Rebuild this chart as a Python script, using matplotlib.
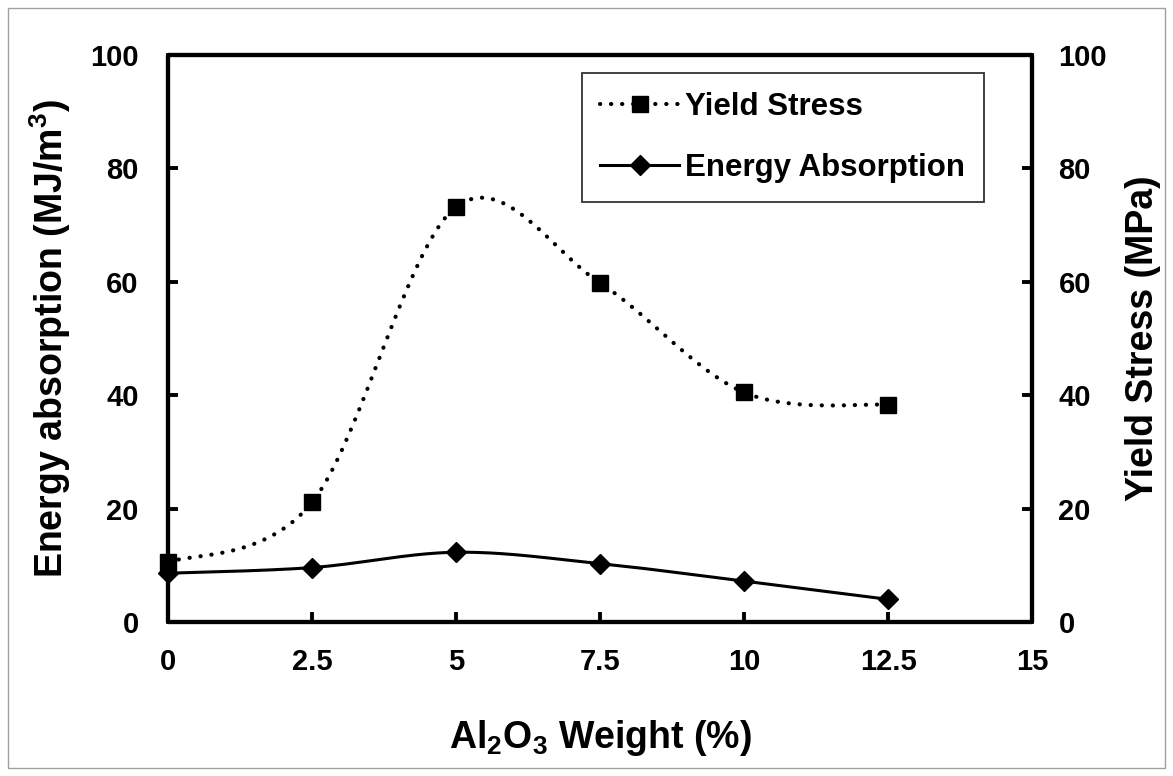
import numpy as np
import matplotlib
matplotlib.use("Agg")
import matplotlib.pyplot as plt
from matplotlib.lines import Line2D
from matplotlib.patches import Rectangle

# ---- data ----
al2o3_wt = [0, 2.5, 5, 7.5, 10, 12.5]
yield_stress = [10.5, 21.1, 73.2, 59.8, 40.5, 38.3]
energy_absorption = [8.6, 9.6, 12.3, 10.3, 7.2, 4.0]
x_ticks = [0, 2.5, 5, 7.5, 10, 12.5, 15]
x_tick_labels = ["0", "2.5", "5", "7.5", "10", "12.5", "15"]
y_ticks = [0, 20, 40, 60, 80, 100]


def excel_smooth(xs, ys, n=40):
    """Excel-style smoothed line (Catmull-Rom Bezier) through the points."""
    xs = np.asarray(xs, float)
    ys = np.asarray(ys, float)
    P = np.column_stack([xs, ys])
    out = []
    t = np.linspace(0, 1, n)[:, None]
    for i in range(len(P) - 1):
        p0 = P[i - 1] if i > 0 else P[i]
        p1 = P[i]
        p2 = P[i + 1]
        p3 = P[i + 2] if i + 2 < len(P) else P[i + 1]
        c1 = p1 + (p2 - p0) / 6.0
        c2 = p2 - (p3 - p1) / 6.0
        seg = ((1 - t) ** 3) * p1 + 3 * ((1 - t) ** 2) * t * c1 + 3 * (1 - t) * t ** 2 * c2 + t ** 3 * p2
        out.append(seg if i == 0 else seg[1:])
    arr = np.vstack(out)
    return arr[:, 0], arr[:, 1]


plt.rcParams['font.family'] = ['Liberation Sans', 'DejaVu Sans']
plt.rcParams['font.weight'] = 'bold'
plt.rcParams['mathtext.fontset'] = 'custom'
plt.rcParams['mathtext.rm'] = 'Liberation Sans:bold'
plt.rcParams['mathtext.bf'] = 'Liberation Sans:bold'
plt.rcParams['mathtext.default'] = 'bf'

fig = plt.figure(figsize=(11.73, 7.76), dpi=100)
ax = fig.add_axes([168 / 1173, 1 - 622 / 776, (1032 - 168) / 1173, (622 - 55) / 776])
ax2 = ax.twinx()

# outer border
fig.patches.append(Rectangle((8 / 1173, 8 / 776), 1157 / 1173, 760 / 776, transform=fig.transFigure,
                             fill=False, edgecolor='#a0a0a0', linewidth=1.0))

# energy absorption on left axis
ex, ey = excel_smooth(al2o3_wt, energy_absorption)
ax.plot(ex, ey, color='black', linewidth=2.2, solid_capstyle='round', zorder=3)
ax.plot(al2o3_wt, energy_absorption, linestyle='none', marker='D', markersize=10.5,
        color='black', zorder=4, clip_on=False)

# yield stress on right axis
yx, yy = excel_smooth(al2o3_wt, yield_stress)
ax2.plot(yx, yy, color='black', linewidth=3.0, linestyle=(0, (0.05, 2.6)),
         dash_capstyle='round', zorder=3)
ax2.plot(al2o3_wt, yield_stress, linestyle='none', marker='s', markersize=12,
         color='black', zorder=4, clip_on=False)

for a in (ax, ax2):
    a.set_xlim(0, 15)
    a.set_ylim(0, 100)
    a.set_yticks(y_ticks)
    for s in a.spines.values():
        s.set_linewidth(3.0)
        s.set_capstyle('round')

ax.set_xticks(x_ticks)
ax.set_xticklabels(x_tick_labels)
ax.tick_params(axis='both', direction='in', length=7, width=2.8, labelsize=21, pad=19)
ax.tick_params(axis='y', pad=21)
ax2.tick_params(axis='y', direction='in', length=7, width=2.8, labelsize=21, pad=19)
for lab in ax.get_xticklabels() + ax.get_yticklabels() + ax2.get_yticklabels():
    lab.set_fontweight('bold')

ax.set_xlabel(r'Al$_\mathbf{2}$O$_\mathbf{3}$ Weight (%)', fontsize=27, fontweight='bold', va='center')
ax.xaxis.set_label_coords(0.5, (622 - 738) / 567)
ax.set_ylabel(r'Energy absorption (MJ/m$^\mathbf{3}$)', fontsize=27, fontweight='bold', va='center')
ax.yaxis.set_label_coords((50 - 168) / 864, 0.5)
ax2.set_ylabel('Yield Stress (MPa)', fontsize=27, fontweight='bold', va='center')
ax2.yaxis.set_label_coords((1143 - 168) / 864, 0.5)

handles = [
    Line2D([], [], color='black', linewidth=3.0, linestyle=(0, (0.05, 2.6)), dash_capstyle='round',
           marker='s', markersize=12),
    Line2D([], [], color='black', linewidth=2.2, marker='D', markersize=10.5),
]
leg = ax2.legend(handles, ['Yield Stress', 'Energy Absorption'], loc='upper right',
                 bbox_to_anchor=(0.944, 0.968), frameon=True, fancybox=False,
                 edgecolor='black', handlelength=2.5, handletextpad=0.2, borderpad=0.6,
                 labelspacing=1.0, borderaxespad=0.0, prop={'weight': 'bold', 'size': 22.5})
leg.get_frame().set_linewidth(1.3)

fig.savefig('out.png', dpi=100)
